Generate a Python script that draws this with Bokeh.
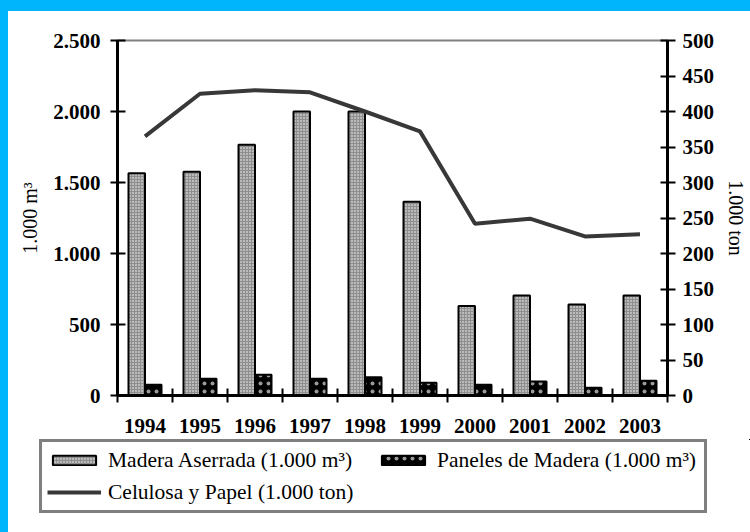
from bokeh.plotting import figure
from bokeh.layouts import column
from bokeh.models import (Range1d, LinearAxis, FixedTicker, Legend, LegendItem,
                          GlobalInlineStyleSheet, ColumnDataSource)
from bokeh.embed import file_html
from bokeh.resources import INLINE
import numpy as np

# ---- data ----
years = ["1994", "1995", "1996", "1997", "1998", "1999", "2000", "2001", "2002", "2003"]
madera = [1565, 1575, 1765, 2000, 2000, 1365, 630, 705, 640, 705]
paneles = [75, 118, 146, 118, 129, 89, 75, 99, 54, 103]
celulosa = [365, 425, 430, 427, 400, 372, 242, 249, 224, 227]
left_ticks = [0, 500, 1000, 1500, 2000, 2500]
left_tick_labels = ["0", "500", "1.000", "1.500", "2.000", "2.500"]
right_ticks = [0, 50, 100, 150, 200, 250, 300, 350, 400, 450, 500]
right_tick_labels = ["0", "50", "100", "150", "200", "250", "300", "350", "400", "450", "500"]
series_names = ["Madera Aserrada (1.000 m³)", "Paneles de Madera (1.000 m³)",
                "Celulosa y Papel (1.000 ton)"]

SERIF = "Liberation Serif"

n = len(years)
centers = np.arange(n) + 0.5
bounds = list(np.arange(n + 1).astype(float))
src = ColumnDataSource(dict(x=centers, xl=centers - 0.15, xr=centers + 0.15,
                            madera=madera, paneles=paneles, celulosa=celulosa))

MAD_STYLE = dict(fill_color="#8e8e8e", hatch_pattern="dot", hatch_color="white",
                 hatch_scale=3, hatch_weight=1, line_color="black", line_width=2)
PAN_STYLE = dict(fill_color="black", hatch_pattern="dot", hatch_color="#9a9a9a",
                 hatch_scale=8, hatch_weight=0.5, line_color="black", line_width=2)
CEL_STYLE = dict(line_color="#383838", line_width=4)

p = figure(width=742, height=428, output_backend="svg", toolbar_location=None,
           x_range=Range1d(0, n), y_range=Range1d(0, 2500),
           min_border_left=109, min_border_right=83, min_border_top=29,
           min_border_bottom=44, background_fill_color="white",
           border_fill_color="white", outline_line_color="#808080",
           outline_line_width=2)
p.frame_align = False
p.grid.visible = False
p.extra_y_ranges = {"right": Range1d(0, 500)}
p.stylesheets = [GlobalInlineStyleSheet(
    css="html,body{background:#00b5fb;} body{margin:11px 0 0 8px;}")]

p.vbar(x="xl", top="madera", width=0.3, bottom=0, source=src, **MAD_STYLE)
p.vbar(x="xr", top="paneles", width=0.3, bottom=0, source=src, **PAN_STYLE)
p.line(x="x", y="celulosa", y_range_name="right", source=src, **CEL_STYLE)

# x axis
xa = p.xaxis[0]
xa.ticker = FixedTicker(ticks=list(centers), minor_ticks=bounds)
xa.major_label_overrides = {float(c): y for c, y in zip(centers, years)}
xa.major_tick_line_color = None
xa.major_tick_in = 0
xa.major_tick_out = 0
xa.minor_tick_line_color = "black"
xa.minor_tick_line_width = 2
xa.minor_tick_in = 7
xa.minor_tick_out = 7
xa.axis_line_color = "black"
xa.axis_line_width = 3
xa.major_label_standoff = 16
xa.major_label_text_font = SERIF
xa.major_label_text_font_style = "bold"
xa.major_label_text_font_size = "21px"
xa.major_label_text_color = "black"

# left axis
ya = p.yaxis[0]
ya.ticker = FixedTicker(ticks=left_ticks, minor_ticks=[])
ya.major_label_overrides = {t: l for t, l in zip(left_ticks, left_tick_labels)}
ya.axis_label = "1.000 m³"
ya.axis_label_text_font = SERIF
ya.axis_label_text_font_style = "normal"
ya.axis_label_text_font_size = "20px"
ya.axis_label_text_color = "black"
ya.axis_label_standoff = 9
ya.major_label_text_font = SERIF
ya.major_label_text_font_style = "bold"
ya.major_label_text_font_size = "21px"
ya.major_label_text_color = "black"
ya.major_label_standoff = 10
ya.axis_line_width = 3
ya.major_tick_line_width = 2
ya.major_tick_in = 8
ya.major_tick_out = 7
ya.minor_tick_line_color = None

# right axis
ra = LinearAxis(y_range_name="right",
                ticker=FixedTicker(ticks=right_ticks, minor_ticks=[]))
ra.major_label_overrides = {t: l for t, l in zip(right_ticks, right_tick_labels)}
ra.axis_label = "1.000 ton"
ra.axis_label_text_font = SERIF
ra.axis_label_text_font_style = "normal"
ra.axis_label_text_font_size = "20px"
ra.axis_label_text_color = "black"
ra.axis_label_standoff = 8
ra.major_label_text_font = SERIF
ra.major_label_text_font_style = "bold"
ra.major_label_text_font_size = "21px"
ra.major_label_text_color = "black"
ra.major_label_standoff = 7
ra.axis_line_width = 3
ra.major_tick_line_width = 2
ra.major_tick_in = 7
ra.major_tick_out = 8
ra.minor_tick_line_color = None
p.add_layout(ra, "right")

# ---- legend strip: separate figure; its renderers share the data but the
# view range lies outside it so only the legend swatches are drawn ----
leg = figure(width=742, height=93, output_backend="svg", toolbar_location=None,
             x_range=Range1d(-30, -29), y_range=Range1d(-30, -29),
             x_axis_type=None, y_axis_type=None,
             min_border_left=0, min_border_right=0, min_border_top=0,
             min_border_bottom=0, background_fill_color="white",
             border_fill_color="white", outline_line_color=None)
leg.frame_align = False
leg.grid.visible = False
lr_mad = leg.vbar(x="xl", top="madera", width=0.3, bottom=0, source=src, **MAD_STYLE)
lr_pan = leg.vbar(x="xr", top="paneles", width=0.3, bottom=0, source=src, **PAN_STYLE)
lr_cel = leg.line(x="x", y="celulosa", source=src, **CEL_STYLE)

legend = Legend(items=[LegendItem(label=series_names[0], renderers=[lr_mad]),
                       LegendItem(label=series_names[1], renderers=[lr_pan]),
                       LegendItem(label=series_names[2], renderers=[lr_cel])],
                orientation="horizontal", ncols=2,
                location=(31, 19),
                border_line_color="black", border_line_width=3,
                background_fill_color="white", background_fill_alpha=1,
                label_text_font=SERIF, label_text_font_size="21.5px",
                label_text_color="black",
                glyph_width=54, glyph_height=12, label_height=26,
                label_width=262, label_standoff=7, spacing=6, padding=5,
                margin=0)
leg.add_layout(legend, "center")

layout = column(p, leg, spacing=0, styles={"background-color": "white"})
open("out.html", "w").write(file_html(layout, INLINE))
